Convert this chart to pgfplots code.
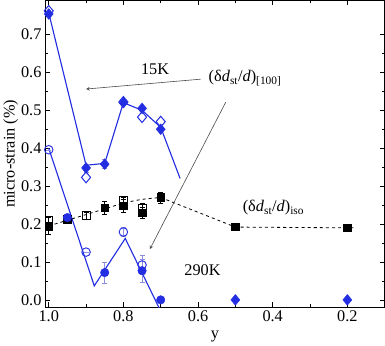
\documentclass[border=0pt]{standalone}
\usepackage{pgfplots}
\pgfplotsset{compat=1.18}
\usepackage{fontspec}
\setmainfont{Liberation Serif}
\definecolor{myblue}{RGB}{35,45,225}
\definecolor{errblue}{RGB}{140,140,225}
\begin{document}
\begin{tikzpicture}
\begin{axis}[
  scale only axis, width=334pt, height=302pt,
  x dir=reverse, xmin=0.1, xmax=1.01, ymin=-0.02, ymax=0.79,
  xtick={1.0,0.8,0.6,0.4,0.2}, xticklabels={1.0,0.8,0.6,0.4,0.2},
  minor xtick={0.9,0.7,0.5,0.3,0.1},
  ytick={0,0.1,0.2,0.3,0.4,0.5,0.6,0.7},
  yticklabels={0.0,0.1,0.2,0.3,0.4,0.5,0.6,0.7},
  minor y tick num=1,
  tick align=inside, major tick length=5pt, minor tick length=3pt,
  tick style={black, line width=0.5pt},
  /pgf/number format/assume math mode=true,
  tick label style={font=\fontsize{16}{18}\selectfont},
  label style={font=\fontsize{16}{18}\selectfont},
  xlabel={y}, ylabel={micro-strain (\%)},
  xlabel style={yshift=-2pt}, ylabel style={yshift=-4pt},
  axis line style={black, line width=0.6pt},
  clip=true,
]
% 15K line
\addplot[myblue, line width=1.1pt, mark=none] coordinates {(1.0,0.757) (0.9,0.355) (0.85,0.36) (0.8,0.52) (0.75,0.5) (0.7,0.455) (0.648,0.32)};
% 290K line
\addplot[myblue, line width=1.1pt, mark=none] coordinates {(1.0,0.4) (0.878,0.037) (0.795,0.162) (0.69,-0.05)};
% iso dashed line
\addplot[black, dashed, line width=0.8pt, mark=none, smooth] coordinates {(1.0,0.195) (0.95,0.21) (0.9,0.225) (0.85,0.24) (0.8,0.255) (0.75,0.265) (0.7,0.27)};
\addplot[black, dashed, line width=0.8pt, mark=none] coordinates {(0.7,0.27) (0.5,0.192) (0.2,0.19) (0.18,0.19)};
% black open squares
\addplot[black, only marks, mark=square, mark size=3.8pt, mark options={fill=white, line width=0.7pt},
  error bars/.cd, y dir=both, y explicit, error bar style={black, line width=0.5pt}, error mark options={rotate=90, mark size=2.5pt}]
  coordinates {(1.0,0.21) +- (0,0.01) (0.9,0.222) +- (0,0.008) (0.8,0.262) +- (0,0.01) (0.75,0.243) +- (0,0.012)};
% black filled squares
\addplot[black, only marks, mark=square*, mark size=3.8pt,
  error bars/.cd, y dir=both, y explicit, error bar style={black, line width=0.5pt}, error mark options={rotate=90, mark size=2.5pt}]
  coordinates {(1.0,0.195) +- (0,0.022) (0.95,0.213) +- (0,0.01) (0.85,0.243) +- (0,0.018) (0.8,0.248) +- (0,0.018) (0.75,0.23) +- (0,0.015) (0.7,0.27) +- (0,0.015) (0.5,0.193) +- (0,0) (0.2,0.19) +- (0,0)};
% 15K open diamonds
\addplot[myblue, only marks, mark=diamond, mark size=5.3pt, mark options={fill=white, line width=1pt, xscale=1.12}]
  coordinates {(1.0,0.762) (0.9,0.323) (0.8,0.522) (0.75,0.482) (0.7,0.47)};
% 15K filled diamonds
\addplot[myblue, only marks, mark=diamond*, mark size=5.3pt, mark options={xscale=1.12},
  error bars/.cd, y dir=both, y explicit, error bar style={errblue, line width=0.5pt}, error mark options={rotate=90, mark size=2.5pt, errblue}]
  coordinates {(1.0,0.754) +- (0,0) (0.9,0.348) +- (0,0.01) (0.85,0.358) +- (0,0.012) (0.8,0.52) +- (0,0) (0.75,0.505) +- (0,0) (0.7,0.45) +- (0,0) (0.5,0.0) +- (0,0) (0.2,0.0) +- (0,0)};
% 290K open circles
\addplot[myblue, only marks, mark=o, mark size=4.2pt, mark options={fill=white, line width=0.9pt},
  error bars/.cd, y dir=both, y explicit, error bar style={errblue, line width=0.5pt}, error mark options={rotate=90, mark size=2.5pt, errblue}]
  coordinates {(1.0,0.396) +- (0,0) (0.9,0.126) +- (0,0) (0.8,0.179) +- (0,0.012) (0.75,0.092) +- (0,0.025)};
% 290K filled circles
\addplot[myblue, only marks, mark=*, mark size=4.2pt,
  error bars/.cd, y dir=both, y explicit, error bar style={errblue, line width=0.5pt}, error mark options={rotate=90, mark size=2.5pt, errblue}]
  coordinates {(0.95,0.217) +- (0,0.01) (0.85,0.072) +- (0,0.027) (0.75,0.077) +- (0,0.03) (0.7,0.0) +- (0,0)};
% annotations
\draw[black!70, line width=0.6pt, -stealth] (axis cs:0.593,0.582) -- (axis cs:0.9,0.556);
\draw[black!70, line width=0.6pt, -stealth] (axis cs:0.526,0.521) -- (axis cs:0.729,0.134);
\node[font=\fontsize{16}{18}\selectfont] at (axis cs:0.715,0.607) {15K};
\node[font=\fontsize{16}{18}\selectfont] at (axis cs:0.474,0.585) {(δ\textit{d}\textsubscript{st}/\textit{d})\textsubscript{[100]}};
\node[font=\fontsize{16}{18}\selectfont] at (axis cs:0.398,0.243) {(δ\textit{d}\textsubscript{st}/\textit{d})\textsubscript{iso}};
\node[font=\fontsize{16}{18}\selectfont] at (axis cs:0.588,0.078) {290K};
\end{axis}
\end{tikzpicture}
\end{document}
